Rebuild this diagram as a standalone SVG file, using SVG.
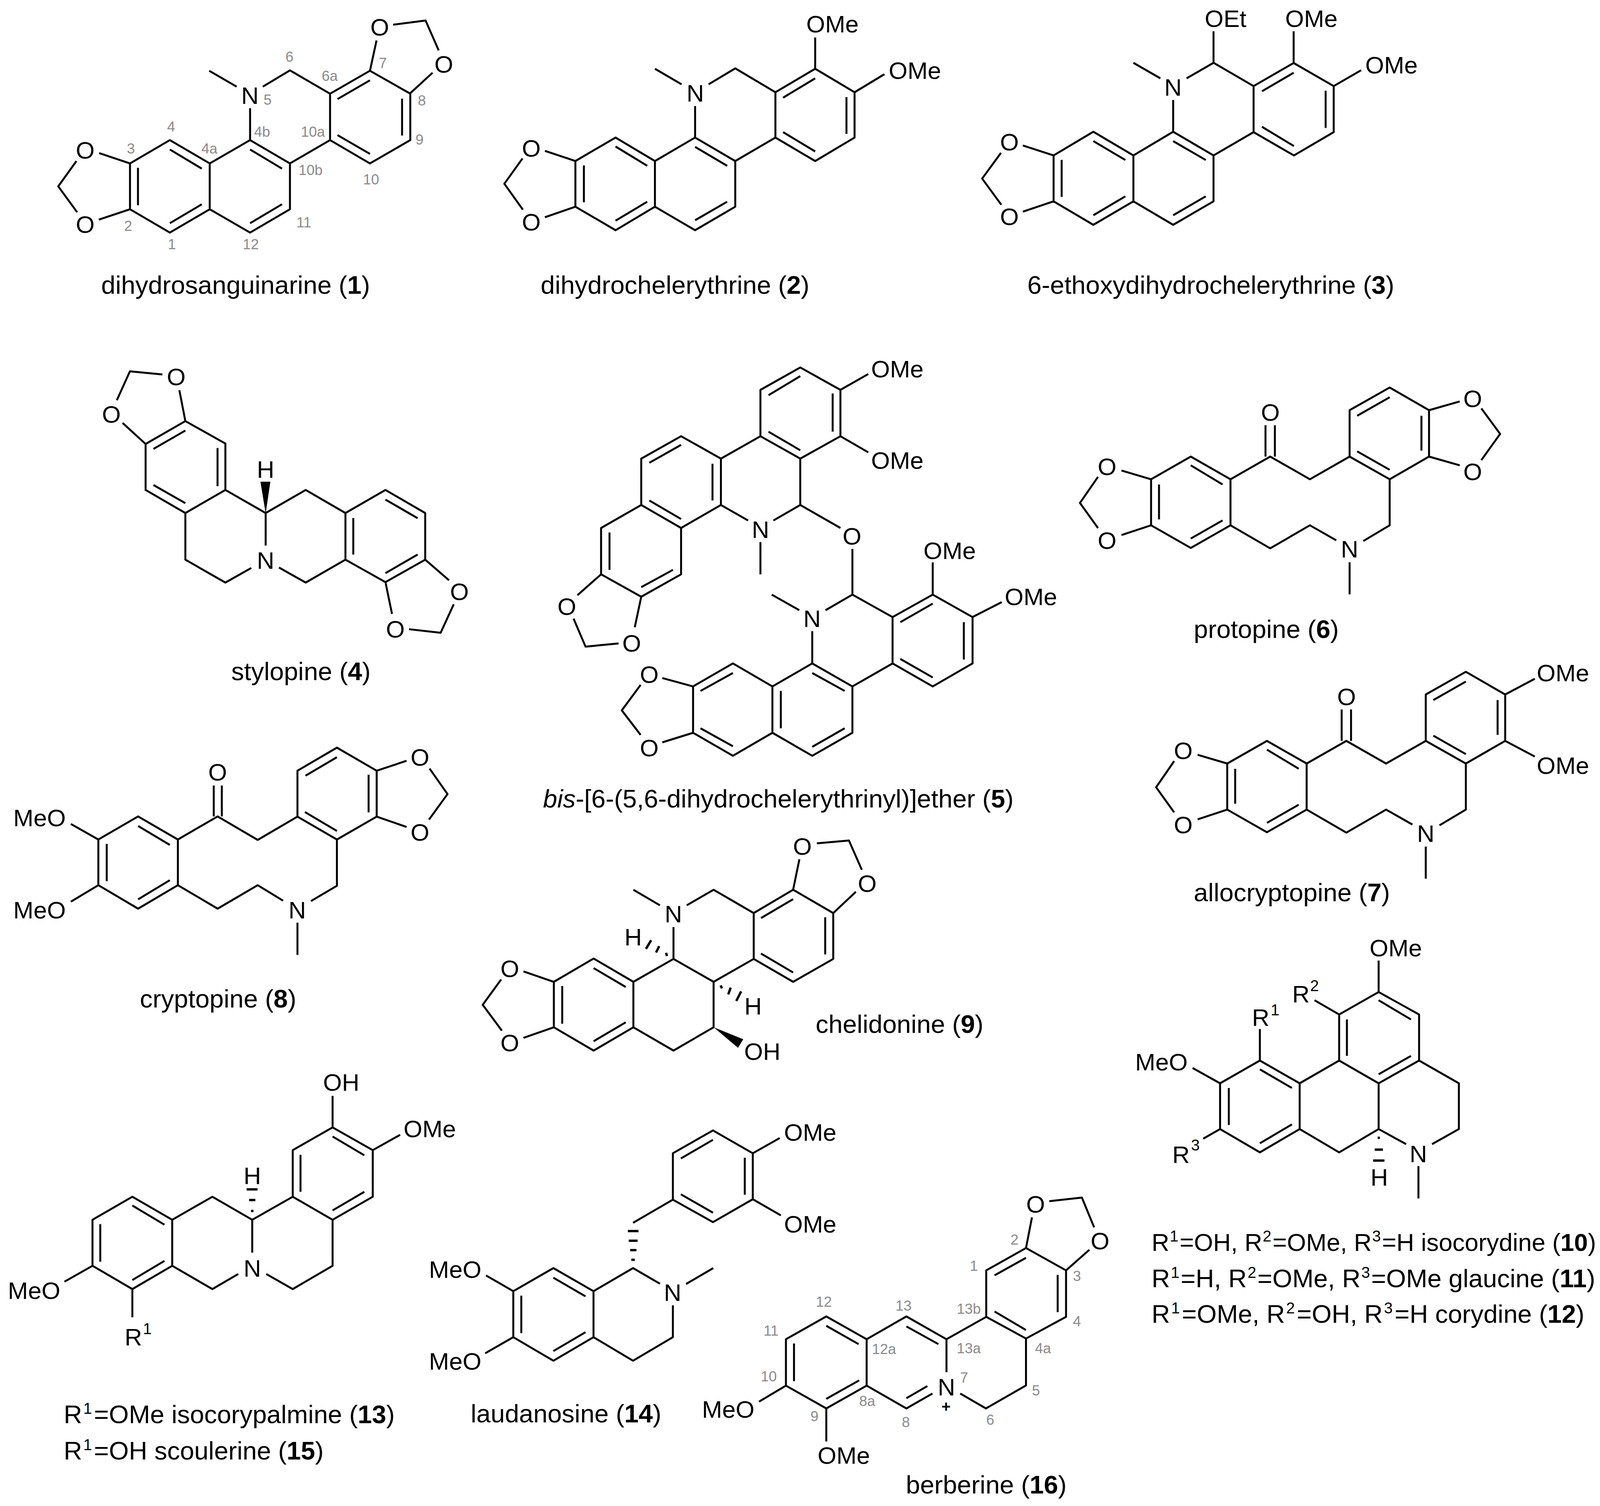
<svg xmlns="http://www.w3.org/2000/svg" width="4149" height="3855" viewBox="0 0 4149 3855">
<style>
text{font-family:"Liberation Sans",Arial,sans-serif;fill:#000}
.b{fill:none;stroke:#000;stroke-width:5;vector-effect:non-scaling-stroke;stroke-linejoin:round}
.h{fill:none;stroke:#000;stroke-width:6;vector-effect:non-scaling-stroke}
.w{fill:#000;stroke:none}
.a{font-size:62px;text-anchor:middle}
.s{font-size:62px}
.u{font-size:40px}
.l{font-size:37px;text-anchor:middle;fill:#8a8a8a}
.c{font-size:65.5px}
.k{font-weight:bold}
.p{font-size:40px;font-weight:bold;text-anchor:middle}
</style>
<rect width="4149" height="3855" fill="#fff"/>

<g id="compound-1">
<path class="b" transform="translate(100 0) scale(.6378 .5102)" d="M365 820L525 703L685 820V1050L525 1167L365 1050ZM397 842V1030M525 750L653 846M653 1025L525 1120M241 768L365 820M150 808L77 935L153 1065M240 1102L365 1050M685 820L847 703L1007 820V1050L847 1167L685 1050M847 750L975 846M975 1025L847 1120M847 703V543M793 435L683 355M898 435L1007 353L1168 470V703L1007 820M1168 470L1328 355L1490 470V703L1328 820L1168 703M1198 497L1328 403M1457 495V680M1328 772L1198 678"/>
<path class="b" transform="translate(700 0) scale(.9885 .5102)" d="M250 355L267 203M353 470L412 365M310 124L394 103L428 253"/>
<text class="a" x="218" y="406">O</text><text class="a" x="218" y="596">O</text><text class="a" x="640" y="266">N</text><text class="a" x="972" y="91">O</text><text class="a" x="1136" y="186">O</text>
<text class="l" x="741" y="158">6</text><text class="l" x="844" y="207">6a</text><text class="l" x="980" y="174">7</text><text class="l" x="1080" y="270">8</text><text class="l" x="685" y="268">5</text><text class="l" x="438" y="337">4</text><text class="l" x="671" y="350">4b</text><text class="l" x="801" y="350">10a</text><text class="l" x="335" y="393">3</text><text class="l" x="536" y="393">4a</text><text class="l" x="1074" y="370">9</text><text class="l" x="795" y="448">10b</text><text class="l" x="950" y="472">10</text><text class="l" x="328" y="591">2</text><text class="l" x="778" y="582">11</text><text class="l" x="440" y="638">1</text><text class="l" x="642" y="638">12</text>
<text class="c" x="259" y="752">dihydrosanguinarine (<tspan class="k">1</tspan>)</text>
</g>

<g id="compound-2">
<path class="b" transform="translate(700 0) scale(.9885 .5102)" d="M782 808L886 690L988 808V1037L886 1155L782 1037ZM804 830V1015M886 735L968 832M968 1012L886 1107M703 757L782 808M703 1090L782 1037M645 795L598 922L646 1052M988 808L1092 690L1196 808V1037L1092 1155L988 1037M1092 737L1175 832M1175 1012L1092 1105M1092 690V532M1057 423L988 345M1127 423L1196 343L1300 463V690L1196 808M1300 463L1403 345L1505 463V690L1403 808L1300 690M1320 490L1403 393M1484 487V672M1403 760L1320 663M1403 345V188"/>
<path class="b" d="M2188 236L2264 190"/>
<text class="a" x="1360" y="401">O</text><text class="a" x="1360" y="590">O</text><text class="a" x="1780" y="260">N</text><text class="s" x="2064" y="83">OMe</text><text class="s" x="2275" y="202">OMe</text>
<text class="c" x="1384" y="752">dihydrochelerythrine (<tspan class="k">2</tspan>)</text>
</g>

<g id="compound-3">
<path class="b" transform="translate(2450 0) scale(.7653 .5102)" d="M323 780L456 661L590 780V1010L456 1128L323 1010ZM350 802V988M456 708L563 803M563 985L456 1080M220 730L323 780M220 1062L323 1010M147 767L84 896L148 1027M590 780L723 661L858 780V1010L723 1128L590 1010M723 708L832 803M832 985L723 1080M723 661V502M680 393L590 315M768 393L858 315L992 432V663L858 780M992 432L1126 316L1260 432V663L1127 780L992 663M1020 458L1126 365M1233 455V642M1127 733L1020 636M858 315V157M1126 316V157M1260 432L1352 352"/>
<text class="a" x="2584" y="385">O</text><text class="a" x="2584" y="576">O</text><text class="a" x="3003" y="245">N</text><text class="s" x="3084" y="69">OEt</text><text class="s" x="3290" y="69">OMe</text><text class="s" x="3495" y="188">OMe</text>
<text class="c" x="2630" y="752">6-ethoxydihydrochelerythrine (<tspan class="k">3</tspan>)</text>
</g>

<g id="compound-4">
<g transform="translate(200 900) scale(.6696 .574)">
<path class="b" d="M410 310L563 410V617L410 720L258 617V412ZM410 352L288 434M533 430V600M288 595L410 676M170 318L258 412M387 172L410 310M148 217L198 88L322 102M563 617L717 720V865M410 720V928L563 1030L662 965M768 963L870 1030L1022 928V720L870 617L717 720M1022 720L1175 617L1327 720V928L1175 1028L1022 928M1052 742V905M1175 660L1298 743M1298 905L1175 988M1327 928L1418 1020M1175 1028L1200 1170M1436 1127L1386 1254L1265 1238"/>
<polygon class="w" points="717,722 697,580 735,580"/>
</g>
<text class="a" x="680" y="1223">H</text><text class="a" x="680" y="1456">N</text><text class="a" x="285" y="1082">O</text><text class="a" x="451" y="986">O</text><text class="a" x="1176" y="1536">O</text><text class="a" x="1012" y="1632">O</text>
<text class="c" x="592" y="1741">stylopine (<tspan class="k">4</tspan>)</text>
</g>

<g id="compound-5">
<path class="b" transform="translate(1300 900) scale(.8291 .7653)" d="M780 128L903 53L1027 128V283L903 358L780 283ZM805 146L903 82M1003 140V268M805 268L903 330M1027 128L1113 75M1027 283L1113 337M780 283L658 358V513L742 565M820 565L903 513V358M903 513L1027 590M780 637V745M658 358L535 283L412 358V513L535 590L658 513M632 375V498M535 312L437 372M437 498L535 560M412 513L288 590V745L412 820L535 745V590M314 605V730M412 788L510 730M288 745L215 815M412 820L392 922M203 893L240 987L342 976M1064 660V813M981 865L1064 813L1188 888M815 813L900 865M940 935V1043M1188 888L1312 813L1435 888V1043L1312 1120L1188 1043ZM1212 905L1312 843M1408 905V1030M1312 1090L1212 1028M1312 813V705M1435 888L1525 838M1188 1043L1064 1120V1275L940 1352L817 1275V1120L940 1043L1064 1120M940 1075L1040 1135M1040 1260L940 1322M843 1135V1260M817 1120L695 1043L572 1120V1275L695 1352L817 1275M695 1075L595 1135M595 1260L695 1320M477 1092L572 1120M477 1307L572 1275M410 1115L352 1200L410 1282"/>
<text class="s" x="2230" y="966">OMe</text><text class="s" x="2230" y="1200">OMe</text><text class="a" x="2181" y="1394">O</text><text class="a" x="1947" y="1377">N</text><text class="a" x="1451" y="1574">O</text><text class="a" x="1617" y="1668">O</text><text class="s" x="2364" y="1431">OMe</text><text class="s" x="2572" y="1549">OMe</text><text class="a" x="2079" y="1605">N</text><text class="a" x="1662" y="1748">O</text><text class="a" x="1662" y="1936">O</text>
<text class="c" x="1390" y="2067"><tspan font-style="italic">bis</tspan>-[6-(5,6-dihydrochelerythrinyl)]ether (<tspan class="k">5</tspan>)</text>
</g>

<g id="compound-6">
<path class="b" transform="translate(2700 950) scale(.9241 .8929)" d="M267 310L377 245L487 310V442L377 507L267 442ZM289 325V425M377 270L465 325M465 428L377 480M185 285L267 310M185 470L267 442M120 303L70 378L120 450M487 310L597 245L707 310L817 245M584 245V155M610 245V155M487 442L597 508L707 442L780 485M855 487L928 442V310M817 548V640M817 245V112L928 47L1037 112V245L928 310L817 245M838 128L928 75M1016 128V228M928 283L838 230M1037 112L1122 87M1037 245L1122 270M1182 107L1234 180L1182 255"/>
<text class="a" x="2834" y="1216">O</text><text class="a" x="2834" y="1405">O</text><text class="a" x="3252" y="1077">O</text><text class="a" x="3455" y="1427">N</text><text class="a" x="3770" y="1042">O</text><text class="a" x="3770" y="1229">O</text>
<text class="c" x="3056" y="1633">protopine (<tspan class="k">6</tspan>)</text>
</g>

<g id="compound-7">
<path class="b" transform="translate(2700 950) scale(.9241 .8929)" d="M478 1125L588 1060L698 1125V1257L588 1322L478 1257ZM500 1140V1240M588 1085L676 1140M676 1243L588 1295M396 1100L478 1125M396 1285L478 1257M331 1118L281 1193L331 1265M698 1125L808 1060L918 1125L1028 1060M795 1060V970M821 1060V970M698 1257L808 1323L918 1257L991 1300M1066 1302L1139 1257V1125M1028 1363V1455M1028 1060V927L1139 862L1248 927V1060L1139 1125L1028 1060M1049 943L1139 890M1227 943V1043M1139 1098L1049 1045M1248 927L1330 882M1248 1060L1330 1105"/>
<text class="a" x="3029" y="1943">O</text><text class="a" x="3029" y="2133">O</text><text class="a" x="3447" y="1805">O</text><text class="a" x="3650" y="2155">N</text><text class="s" x="3934" y="1744">OMe</text><text class="s" x="3934" y="1981">OMe</text>
<text class="c" x="3056" y="2307">allocryptopine (<tspan class="k">7</tspan>)</text>
</g>

<g id="compound-8">
<path class="b" transform="translate(0 1900) scale(.7653 .5102)" d="M329 488L462 372L595 488V717L462 835L329 717ZM357 510V697M462 420L568 515M568 692L462 788M329 488L237 410M329 717L237 800M595 488L728 372L862 490L995 373M715 372V217M742 372V217M595 717L728 835L862 717L947 795M1040 797L1127 720V488M995 905V1067M995 373V143L1127 27L1260 143V373L1127 488L995 373M1022 168L1127 75M1233 163V352M1127 445L1020 350M1260 143L1360 93M1260 373L1360 425M1437 132L1497 260L1435 388"/>
<text class="s" x="34" y="2115">MeO</text><text class="s" x="34" y="2351">MeO</text><text class="a" x="557" y="1998">O</text><text class="a" x="761" y="2351">N</text><text class="a" x="1075" y="1960">O</text><text class="a" x="1075" y="2152">O</text>
<text class="c" x="358" y="2579">cryptopine (<tspan class="k">8</tspan>)</text>
</g>

<g id="compound-9">
<g transform="translate(1200 2150) scale(.8929 .5102)">
<path class="b" d="M244 712L358 595L472 712V940L358 1057L244 940ZM268 733V922M358 643L450 738M450 915L358 1010M157 660L244 712M157 993L244 940M93 700L40 827L95 957M472 712L587 597L702 712V940L587 1057L472 940M587 597V437M548 328L472 250M625 328L702 250L817 367V597L702 712M817 367L930 250L1045 367V597L930 712L817 597M838 392L930 297M1022 388V575M930 665L838 570M930 250L948 97M1045 367L1110 260M998 17L1090 3L1127 150"/>
<path class="h" d="M566 566L568 583M546 533L537 565M523 503L508 547M722 730L726 745M751 741L744 775M781 760L767 808"/>
<polygon class="w" points="702,940 787,1000 772,1043"/>
</g>
<text class="a" x="1621" y="2420">H</text><text class="a" x="1928" y="2597">H</text><text class="s" x="1905" y="2713">OH</text><text class="a" x="1724" y="2361">N</text><text class="a" x="1305" y="2501">O</text><text class="a" x="1305" y="2691">O</text><text class="a" x="2054" y="2188">O</text><text class="a" x="2220" y="2283">O</text>
<text class="c" x="2088" y="2644">chelidonine (<tspan class="k">9</tspan>)</text>
</g>

<g id="compounds-10-12">
<g transform="translate(2850 2350) scale(.8284 .7015)">
<path class="b" d="M330 603L453 520L576 603V770L453 855L330 770ZM357 620V755M453 552L552 620M552 753L453 822M330 603L245 547M453 520V405M330 770L278 805M576 603L698 520M576 770L698 855L820 770V603M698 520V352L820 270L945 352V520L820 603L698 520M722 370V503M820 300L920 370M920 503L820 570M698 352L622 300M820 270V155M945 520L1068 603V770L985 825M820 770L905 825M943 905V1023"/>
<path class="h" d="M817 802H824M808 845H833M803 885H838"/>
</g>
<text class="s" x="2906" y="2740">MeO</text><text class="s" x="3205" y="2626">R</text><text class="u" x="3253" y="2599">1</text><text class="s" x="3001" y="2977">R</text><text class="u" x="3049" y="2945">3</text><text class="s" x="3308" y="2566">R</text><text class="u" x="3354" y="2537">2</text><text class="s" x="3506" y="2448">OMe</text><text class="a" x="3631" y="2975">N</text><text class="a" x="3531" y="3035">H</text>
<text class="c" x="2948" y="3202" style="font-size:63px">R<tspan class="u" dx="1" dy="-24">1</tspan><tspan dx="3" dy="24">=OH, R</tspan><tspan class="u" dx="1" dy="-24">2</tspan><tspan dx="3" dy="24">=OMe, R</tspan><tspan class="u" dx="1" dy="-24">3</tspan><tspan dx="3" dy="24">=H isocorydine (</tspan><tspan class="k">10</tspan>)</text>
<text class="c" x="2948" y="3295">R<tspan class="u" dx="2" dy="-24">1</tspan><tspan dx="3" dy="24">=H, R</tspan><tspan class="u" dx="2" dy="-24">2</tspan><tspan dx="3" dy="24">=OMe, R</tspan><tspan class="u" dx="2" dy="-24">3</tspan><tspan dx="3" dy="24">=OMe glaucine (</tspan><tspan class="k">11</tspan>)</text>
<text class="c" x="2948" y="3386">R<tspan class="u" dx="3" dy="-24">1</tspan><tspan dx="5" dy="24">=OMe, R</tspan><tspan class="u" dx="3" dy="-24">2</tspan><tspan dx="5" dy="24">=OH, R</tspan><tspan class="u" dx="3" dy="-24">3</tspan><tspan dx="5" dy="24">=H corydine (</tspan><tspan class="k">12</tspan>)</text>
</g>

<g id="compounds-13-15">
<g transform="translate(0 2700) scale(.7972 .7015)">
<path class="b" d="M297 602L425 518L553 602V770L425 855L297 770ZM322 618V755M425 550L528 620M528 752L425 822M297 770L207 828M425 855V958M553 602L682 518L810 602V722M553 770L682 855L765 800M855 800L940 855L1068 770V602M810 602L940 518L1068 602M940 518V348L1068 265L1197 348V518L1068 602M965 365V500M1068 298L1170 367M1170 500L1068 568M1068 265V150M1197 348L1285 292"/>
<path class="h" d="M806 570H814M800 530H820M792 491H827"/>
</g>
<text class="s" x="20" y="3325">MeO</text><text class="s" x="319" y="3444">R</text><text class="u" x="366" y="3415">1</text><text class="s" x="827" y="2792">OH</text><text class="s" x="1033" y="2911">OMe</text><text class="a" x="646" y="3031">H</text><text class="a" x="646" y="3268">N</text>
<text class="c" x="163" y="3643">R<tspan class="u" dx="3" dy="-24">1</tspan><tspan dx="5" dy="24">=OMe isocorypalmine (</tspan><tspan class="k">13</tspan>)</text>
<text class="c" x="163" y="3736">R<tspan class="u" dx="3" dy="-24">1</tspan><tspan dx="5" dy="24">=OH scoulerine (</tspan><tspan class="k">15</tspan>)</text>
</g>

<g id="compound-14">
<g transform="translate(1050 2800) scale(.7334 .574)">
<path class="b" d="M360 880L500 777L640 880V1085L500 1190L360 1085ZM388 900V1067M500 820L612 903M612 1063L500 1147M360 880L265 810M360 1085L262 1157M640 880L778 777L872 847M917 943V1085L778 1190L640 1085M963 848L1058 777M778 575L917 472V265L1057 163L1196 265V470L1057 572L917 472M945 288L1057 205M1168 285V450M1057 530L945 448M1196 265L1290 197M1196 470L1294 542"/>
<path class="h" d="M760 612H797M763 655H794M768 697H790M772 740H784"/>
</g>
<text class="s" x="1098" y="3271">MeO</text><text class="s" x="1098" y="3506">MeO</text><text class="s" x="2007" y="2920">OMe</text><text class="s" x="2007" y="3155">OMe</text><text class="a" x="1722" y="3330">N</text>
<text class="c" x="1205" y="3641">laudanosine (<tspan class="k">14</tspan>)</text>
</g>

<g id="compound-16">
<path class="b" transform="translate(1800 3000) scale(.7653 .5453)" d="M947 462L1080 357L1214 462V680L1080 782L947 680ZM975 485L1080 403M1186 483V658M1080 742L975 655M1080 357L1100 213M1214 462L1292 365M1158 137L1267 120L1308 260M947 680L814 785V940M1080 782V1002L946 1110L860 1040M814 785L680 678L547 785M680 725L787 808M547 785L412 678L277 785V1003L412 1110L547 1003V785M412 722L520 808M304 805V982M412 1065L522 978M547 1003L680 1110L767 1040M680 1062L750 1005M277 1003L187 1078M412 1110V1265"/>
<text class="p" x="2422" y="3614">+</text><text class="s" x="1797" y="3629">MeO</text><text class="s" x="2093" y="3747">OMe</text><text class="a" x="2423" y="3572">N</text><text class="a" x="2651" y="3104">O</text><text class="a" x="2816" y="3198">O</text>
<text class="l" x="2493" y="3253">1</text><text class="l" x="2597" y="3186">2</text><text class="l" x="2757" y="3279">3</text><text class="l" x="2757" y="3395">4</text><text class="l" x="2670" y="3464">4a</text><text class="l" x="2652" y="3572">5</text><text class="l" x="2535" y="3647">6</text><text class="l" x="2468" y="3539">7</text><text class="l" x="2319" y="3653">8</text><text class="l" x="2220" y="3599">8a</text><text class="l" x="2085" y="3638">9</text><text class="l" x="1968" y="3536">10</text><text class="l" x="1974" y="3419">11</text><text class="l" x="2109" y="3345">12</text><text class="l" x="2313" y="3355">13</text><text class="l" x="2263" y="3466">12a</text><text class="l" x="2480" y="3464">13a</text><text class="l" x="2480" y="3363">13b</text>
<text class="c" x="2319" y="3823">berberine (<tspan class="k">16</tspan>)</text>
</g>
</svg>
